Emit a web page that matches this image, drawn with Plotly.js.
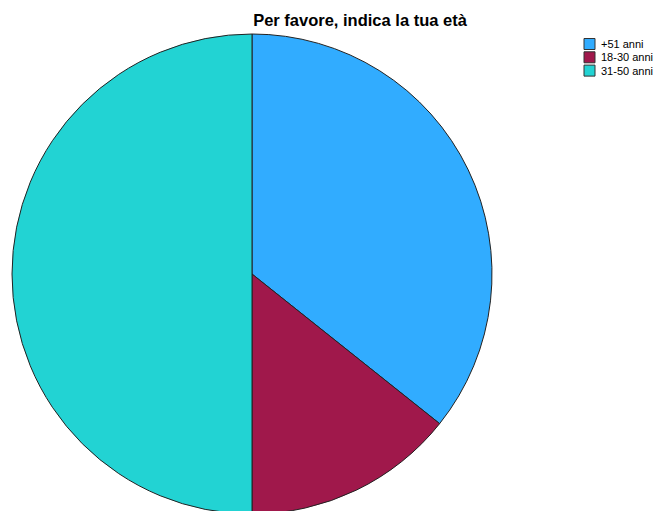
<!DOCTYPE html>
<html>
<head>
<meta charset="utf-8">
<script src="https://cdn.plot.ly/plotly-3.0.1.min.js"></script>
<style>
  html, body { margin: 0; padding: 0; overflow: hidden; background: #fff; }
  #chart { width: 664px; height: 520px; }
</style>
</head>
<body>
<div id="chart"></div>
<script>
// Age groups of respondents
const categories = ['+51 anni', '18-30 anni', '31-50 anni'];
const counts = [5, 2, 7];
const colors = ['#31acff', '#a0184b', '#22d3d3'];
const chartTitle = 'Per favore, indica la tua età';

const W = 664, H = 520;
const fx = px => px / W;
const fy = px => 1 - px / H;

const pie = {
  type: 'pie',
  labels: categories,
  values: counts,
  sort: false,
  direction: 'clockwise',
  rotation: 0,
  textinfo: 'none',
  hoverinfo: 'label+value+percent',
  marker: { colors: colors, line: { color: '#222', width: 1 } },
  domain: { x: [fx(12), fx(492)], y: [fy(514), fy(34)] },
  showlegend: false
};

// Compact legend: swatches and labels
const shapes = [];
const annotations = [];
categories.forEach((c, i) => {
  const cy = 44 + 13.3 * i;
  shapes.push({
    type: 'rect', xref: 'paper', yref: 'paper',
    x0: fx(584), x1: fx(595), y0: fy(cy + 5.5), y1: fy(cy - 5.5),
    fillcolor: colors[i], line: { color: '#333', width: 1 }
  });
  annotations.push({
    xref: 'paper', yref: 'paper', x: fx(599), y: fy(cy),
    xanchor: 'left', yanchor: 'middle', showarrow: false,
    text: c, font: { family: 'Liberation Sans, Arial, sans-serif', size: 11, color: '#000' }
  });
});

const layout = {
  width: W, height: H,
  margin: { l: 0, r: 0, t: 0, b: 0 },
  paper_bgcolor: '#fff',
  title: {
    text: '<b>' + chartTitle + '</b>',
    x: fx(360), xanchor: 'center',
    y: fy(20), yanchor: 'middle',
    font: { family: 'Liberation Sans, Arial, sans-serif', size: 16.5, color: '#000' }
  },
  showlegend: false,
  shapes: shapes,
  annotations: annotations
};

Plotly.newPlot('chart', [pie], layout, { displayModeBar: false, staticPlot: true });
</script>
</body>
</html>
